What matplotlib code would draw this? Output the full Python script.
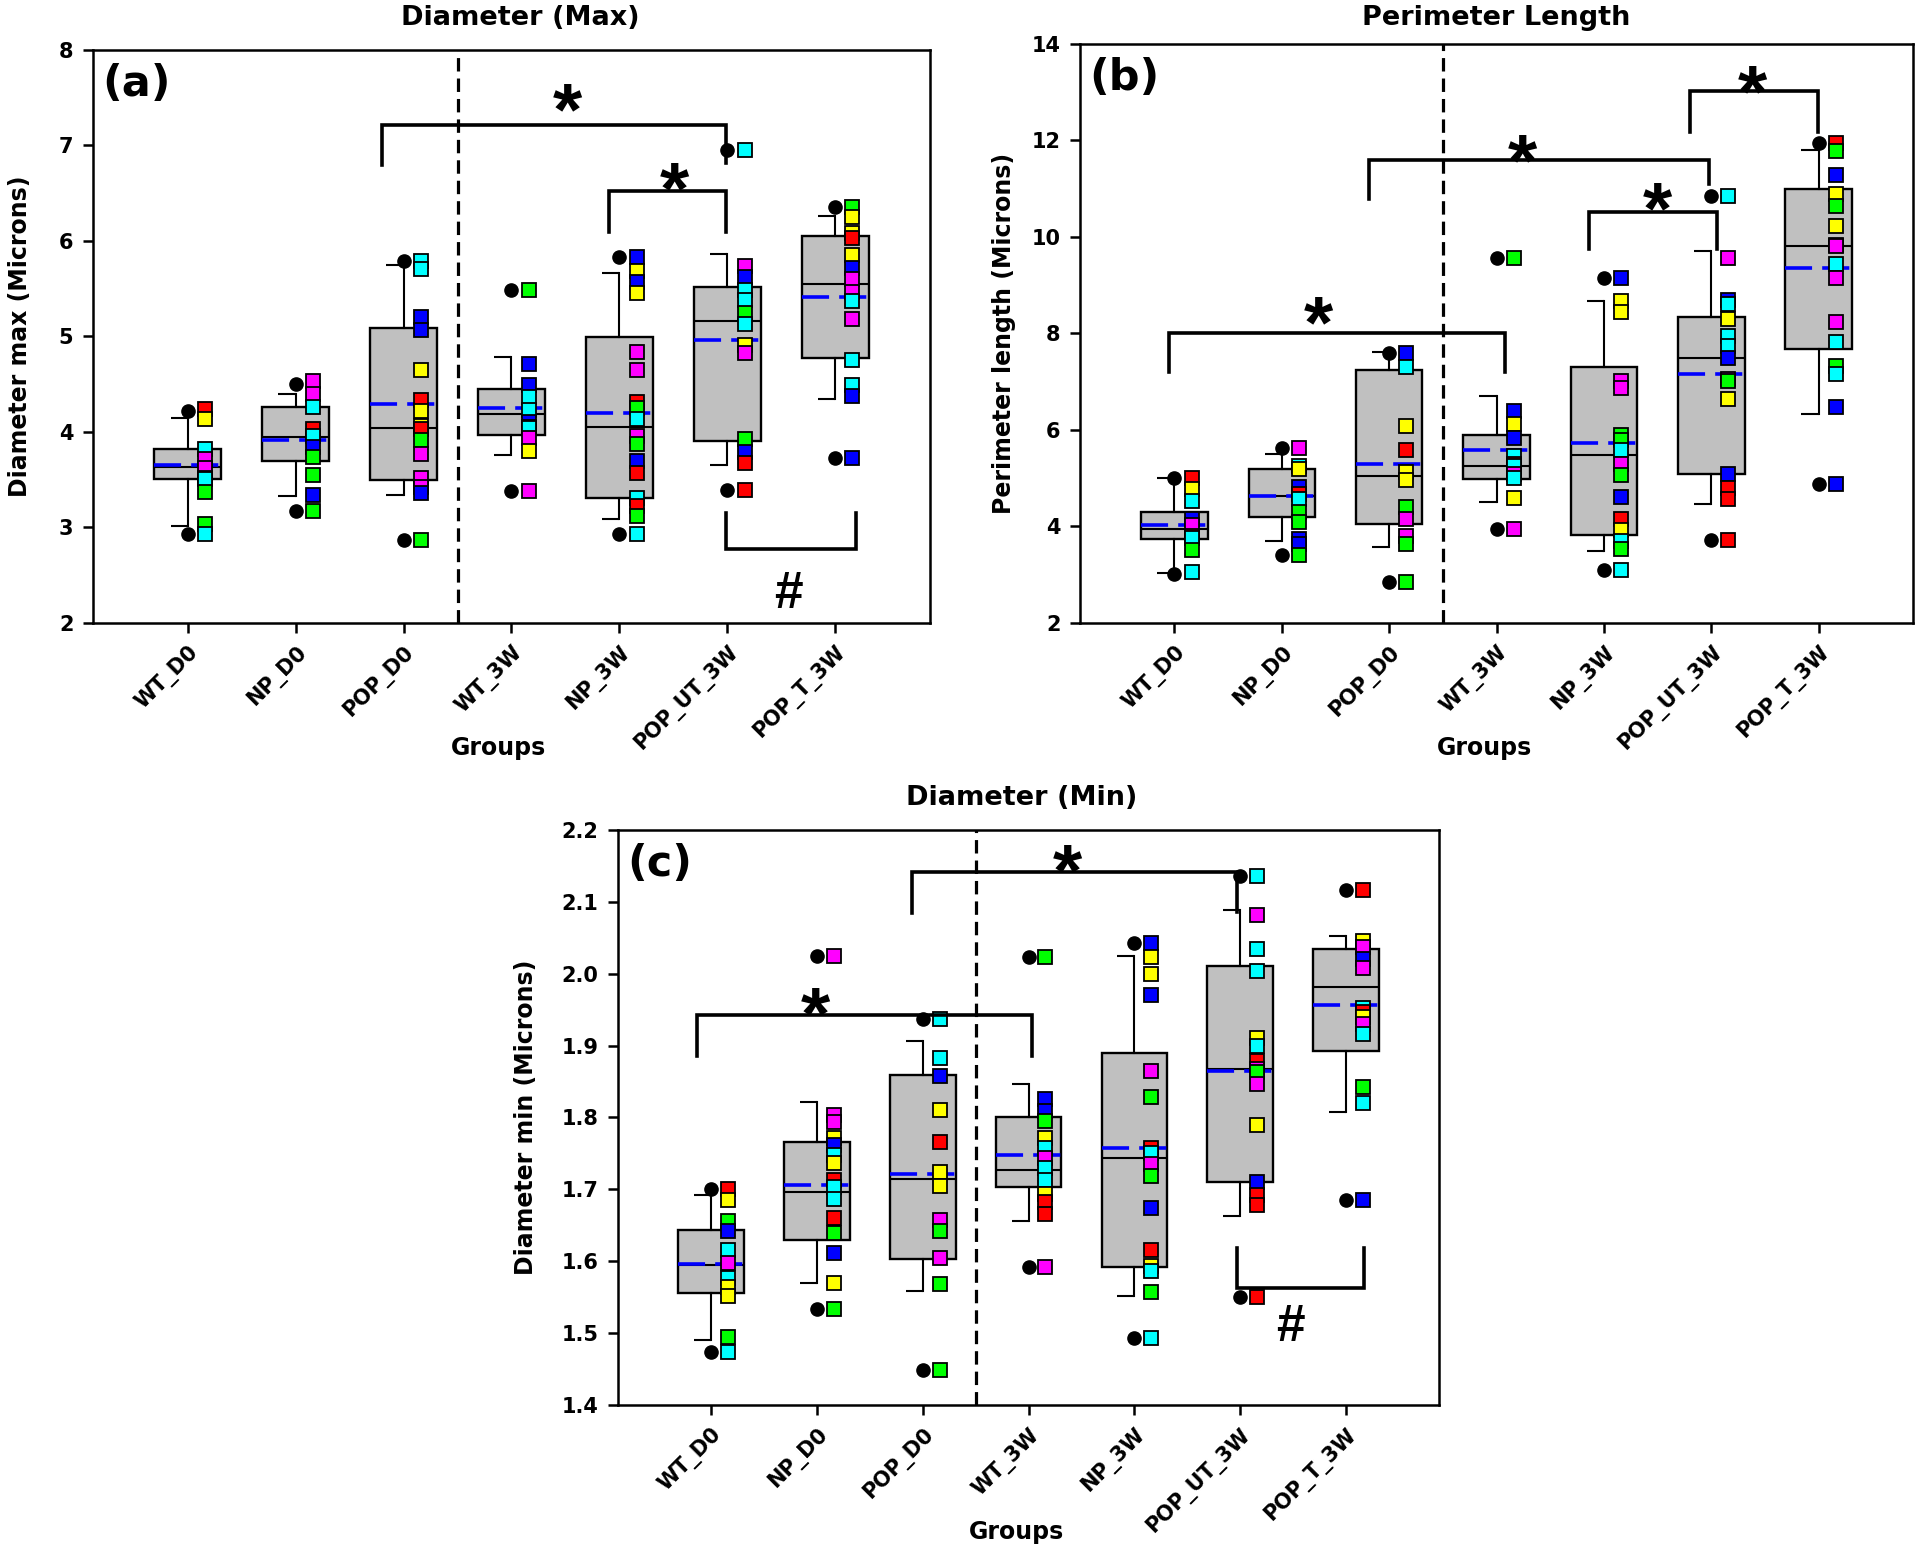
import matplotlib
matplotlib.use("Agg")
import matplotlib.pyplot as plt

plt.rcParams['font.family'] = ['DejaVu Sans']
plt.rcParams['font.weight'] = 'bold'

groups = ['WT_D0', 'NP_D0', 'POP_D0', 'WT_3W', 'NP_3W', 'POP_UT_3W', 'POP_T_3W']
colours = {'r': '#ff0000', 'y': '#ffff00', 'g': '#00ff00',
           'b': '#0000ff', 'm': '#ff00ff', 'c': '#00ffff'}

# ---- (a) Diameter (Max) ----
a_q1 = [3.50, 3.69, 3.49, 3.97, 3.30, 3.90, 4.77]
a_med = [3.63, 3.94, 4.04, 4.19, 4.05, 5.16, 5.55]
a_q3 = [3.82, 4.26, 5.09, 4.45, 4.99, 5.52, 6.05]
a_lo = [3.01, 3.33, 3.34, 3.76, 3.09, 3.65, 4.34]
a_hi = [4.14, 4.40, 5.75, 4.78, 5.66, 5.86, 6.26]
a_mean = [3.65, 3.91, 4.29, 4.25, 4.20, 4.96, 5.41]
a_out = [[4.22, 2.93], [4.50, 3.17], [5.79, 2.86], [5.48, 3.38],
         [5.83, 2.93], [6.95, 3.39], [6.36, 3.72]]
a_pts = [
    [4.24, 4.13, 3.82, 3.71, 3.62, 3.52, 3.50, 3.37, 3.03, 2.93],
    [4.53, 4.39, 4.26, 4.03, 3.95, 3.84, 3.74, 3.55, 3.34, 3.17],
    [5.79, 5.71, 5.20, 5.07, 4.65, 4.33, 4.22, 4.06, 4.03, 3.91, 3.77, 3.51, 3.42, 3.36, 2.86],
    [5.49, 4.71, 4.49, 4.36, 4.23, 4.10, 4.05, 4.04, 3.93, 3.80, 3.38],
    [5.83, 5.68, 5.57, 5.45, 4.84, 4.65, 4.31, 4.25, 4.13, 3.96, 3.87, 3.69, 3.57, 3.31, 3.22, 3.12, 2.93],
    [6.95, 5.74, 5.62, 5.49, 5.38, 5.24, 5.13, 4.91, 4.83, 3.92, 3.79, 3.67, 3.39],
    [6.36, 6.25, 6.08, 6.03, 5.85, 5.72, 5.60, 5.46, 5.37, 5.18, 4.75, 4.49, 4.37, 3.72],
]
a_cols = ["rycmmycggc", "mmcrcbggbg", "ccbbyryyrgmmmbg", "gbbccbrcmym",
          "bybymmrgcmgbrcrgc", "cmbccgcymgbrr", "gyyrybmmcmccbb"]
# brackets: x left, x right, bar y, left leg end, right leg end
a_brackets = [[1.80, 4.99, 7.21, 6.80, 6.82], [3.90, 4.99, 6.52, 6.09, 6.09],
              [4.99, 6.19, 2.77, 3.15, 3.15]]
a_marks = [['*', 3.52, 7.57], ['*', 4.51, 6.74], ['#', 5.57, 2.34]]

# ---- (b) Perimeter Length ----
b_q1 = [3.74, 4.18, 4.05, 4.98, 3.82, 5.08, 7.67]
b_med = [3.93, 4.62, 5.03, 5.24, 5.48, 7.48, 9.81]
b_q3 = [4.29, 5.19, 7.23, 5.89, 7.31, 8.34, 11.00]
b_lo = [3.03, 3.69, 3.56, 4.51, 3.48, 4.46, 6.32]
b_hi = [5.00, 5.50, 7.62, 6.69, 8.67, 9.71, 11.81]
b_mean = [4.02, 4.62, 5.29, 5.57, 5.72, 7.15, 9.36]
b_out = [[5.00, 3.01], [5.62, 3.40], [7.59, 2.84], [9.56, 3.94],
         [9.15, 3.10], [10.84, 3.71], [11.94, 4.88]]
b_pts = [
    [5.00, 4.77, 4.53, 4.15, 4.03, 3.79, 3.76, 3.50, 3.05],
    [5.62, 5.24, 5.19, 4.82, 4.67, 4.57, 4.29, 4.08, 3.74, 3.63, 3.40],
    [7.59, 7.31, 6.07, 5.57, 5.13, 4.96, 4.39, 4.15, 3.79, 3.63, 2.84],
    [9.56, 6.38, 6.12, 5.83, 5.45, 5.29, 5.24, 5.08, 5.00, 4.59, 3.94],
    [9.15, 8.67, 8.44, 7.00, 6.86, 5.88, 5.79, 5.58, 5.29, 5.05, 4.60, 4.15, 3.91, 3.69, 3.53, 3.10],
    [10.84, 9.56, 8.70, 8.60, 8.29, 7.95, 7.74, 7.48, 7.05, 7.00, 6.63, 5.08, 4.79, 4.57, 3.71],
    [11.94, 11.78, 11.29, 10.88, 10.64, 10.22, 9.84, 9.81, 9.43, 9.14, 8.24, 7.82, 7.33, 7.15, 6.48, 4.88],
]
b_cols = ["rycbmrcgc", "mcybrcggbbg", "bcyryygmmgg", "gbybcrcmcym",
          "byymmggcmgbrycgc", "cmbcyccbmgybrrr", "rgbygyrmcmmcgcbb"]
b_brackets = [[-0.05, 3.08, 8.00, 7.20, 7.20], [1.81, 4.98, 11.60, 10.79, 11.10],
              [3.86, 5.05, 10.51, 9.74, 9.74], [4.80, 5.99, 13.02, 12.17, 12.17]]
b_marks = [['*', 1.34, 8.60], ['*', 3.24, 11.98], ['*', 4.50, 10.98], ['*', 5.38, 13.41]]

# ---- (c) Diameter (Min) ----
c_q1 = [1.556, 1.630, 1.603, 1.703, 1.592, 1.710, 1.893]
c_med = [1.595, 1.696, 1.715, 1.727, 1.743, 1.868, 1.982]
c_q3 = [1.644, 1.766, 1.859, 1.800, 1.890, 2.011, 2.034]
c_lo = [1.491, 1.570, 1.558, 1.656, 1.552, 1.663, 1.807]
c_hi = [1.692, 1.822, 1.906, 1.847, 2.025, 2.089, 2.053]
c_mean = [1.596, 1.706, 1.722, 1.748, 1.757, 1.865, 1.956]
c_out = [[1.701, 1.473], [2.025, 1.533], [1.937, 1.448], [2.023, 1.592],
         [2.043, 1.493], [2.136, 1.550], [2.116, 1.685]]
c_pts = [
    [1.701, 1.685, 1.656, 1.642, 1.616, 1.597, 1.577, 1.564, 1.552, 1.495, 1.473],
    [2.025, 1.804, 1.793, 1.771, 1.762, 1.748, 1.736, 1.713, 1.703, 1.687, 1.660, 1.639, 1.611, 1.570, 1.533],
    [1.937, 1.883, 1.857, 1.810, 1.766, 1.724, 1.705, 1.658, 1.642, 1.604, 1.568, 1.448],
    [2.023, 1.826, 1.809, 1.795, 1.771, 1.757, 1.743, 1.729, 1.713, 1.694, 1.682, 1.665, 1.592],
    [2.043, 2.023, 1.999, 1.971, 1.865, 1.828, 1.757, 1.751, 1.735, 1.719, 1.674, 1.616, 1.594, 1.586, 1.557, 1.493],
    [2.136, 2.082, 2.034, 2.004, 1.910, 1.900, 1.878, 1.868, 1.863, 1.847, 1.789, 1.710, 1.692, 1.678, 1.550],
    [2.116, 2.046, 2.037, 2.020, 2.008, 1.952, 1.947, 1.940, 1.930, 1.916, 1.842, 1.820, 1.685],
]
c_cols = ["rygbcmcyygc", "mmmybcyrccrgbyg", "ccbyryymgmgg", "gbbgycmccyrrm",
          "byybmgrcmgbrycgc", "cmccycrmgmybrrr", "rymbmcrymcgcb"]
c_brackets = [[-0.13, 3.03, 1.942, 1.886, 1.886], [1.90, 4.97, 2.141, 2.084, 2.086],
              [4.97, 6.17, 1.563, 1.618, 1.618]]
c_marks = [['*', 0.99, 1.971], ['*', 3.37, 2.169], ['#', 5.48, 1.514]]


def draw_panel(ax, q1, med, q3, lo, hi, mean, outl, pts, cols, brackets, marks,
               ylim, yticks, yfmt, title, ylabel, letter, title_x, title_pad, ylab_x, xlab_y):
    pos = list(range(len(groups)))
    stats = []
    for i in pos:
        stats.append(dict(med=med[i], q1=q1[i], q3=q3[i], whislo=lo[i], whishi=hi[i],
                          mean=mean[i], fliers=outl[i], label=groups[i]))
    ax.bxp(stats, positions=pos, widths=0.62, patch_artist=True, showmeans=True,
           meanline=True, showcaps=False,
           boxprops=dict(facecolor='#c0c0c0', edgecolor='black', linewidth=1.7),
           medianprops=dict(color='black', linewidth=1.5),
           meanprops=dict(color='#0000ff', linewidth=2.6, linestyle=(0, (7.5, 2.8))),
           whiskerprops=dict(color='black', linewidth=1.5),
           flierprops=dict(marker='o', markerfacecolor='black', markeredgecolor='black',
                           markersize=9.5))
    # half caps to the left, SigmaPlot style
    ax.hlines(lo, [p - 0.16 for p in pos], pos, color='black', lw=1.5)
    ax.hlines(hi, [p - 0.16 for p in pos], pos, color='black', lw=1.5)
    for i in pos:
        for v, c in zip(pts[i], cols[i]):
            ax.plot(i + 0.16, v, 's', ms=9.5, mfc=colours[c], mec='black', mew=1.3, zorder=5)

    ax.axvline(2.5, color='black', lw=2.3, ls=(0, (4.2, 2.2)), zorder=1)

    for xl, xr, bar, legl, legr in brackets:
        ax.plot([xl, xl, xr, xr], [legl, bar, bar, legr], color='black', lw=2.6,
                solid_joinstyle='miter', zorder=6)
    for s, x, y in marks:
        fs = 54 if s == '*' else 37
        off = -0.58 * fs if s == '*' else -0.35 * fs
        ax.annotate(s, xy=(x, y), xytext=(0, off), textcoords='offset points',
                    ha='center', va='baseline', fontsize=fs, fontweight='bold',
                    family='Liberation Sans')

    ax.set_xlim(-0.88, 6.88)
    ax.set_ylim(*ylim)
    ax.set_yticks(yticks)
    ax.set_yticklabels([yfmt.format(t) for t in yticks], fontsize=15, fontweight='bold')
    ax.set_xticks(pos)
    ax.set_xticklabels(groups, rotation=45, ha='right', rotation_mode='anchor',
                       fontsize=15, fontweight='bold')
    ax.tick_params(axis='both', direction='out', length=7, width=1.8, pad=7)
    for sp in ax.spines.values():
        sp.set_linewidth(1.8)
    ax.set_title(title, fontsize=19.5, fontweight='bold', pad=title_pad, x=title_x)
    ax.set_ylabel(ylabel, fontsize=17, fontweight='bold')
    ax.set_xlabel('Groups', fontsize=17, fontweight='bold')
    ax.yaxis.set_label_coords(ylab_x, 0.5)
    ax.xaxis.set_label_coords(0.485, xlab_y)
    ax.text(0.011, 0.978, letter, transform=ax.transAxes, fontsize=31,
            fontweight='bold', ha='left', va='top')


fig = plt.figure(figsize=(19.2, 15.49), dpi=100)
ax_a = fig.add_axes([0.0484, 0.5981, 0.4360, 0.3696])
ax_b = fig.add_axes([0.5625, 0.5981, 0.4339, 0.3735])
ax_c = fig.add_axes([0.3219, 0.0930, 0.4276, 0.3712])

draw_panel(ax_a, a_q1, a_med, a_q3, a_lo, a_hi, a_mean, a_out, a_pts, a_cols,
           a_brackets, a_marks, (2, 8), [2, 3, 4, 5, 6, 7, 8], '{:g}',
           'Diameter (Max)', 'Diameter max (Microns)', '(a)', 0.511, 18, -0.073, -0.198)
draw_panel(ax_b, b_q1, b_med, b_q3, b_lo, b_hi, b_mean, b_out, b_pts, b_cols,
           b_brackets, b_marks, (2, 14), [2, 4, 6, 8, 10, 12, 14], '{:g}',
           'Perimeter Length', 'Perimeter length (Microns)', '(b)', 0.5, 14, -0.077, -0.196)
draw_panel(ax_c, c_q1, c_med, c_q3, c_lo, c_hi, c_mean, c_out, c_pts, c_cols,
           c_brackets, c_marks, (1.4, 2.2),
           [1.4, 1.5, 1.6, 1.7, 1.8, 1.9, 2.0, 2.1, 2.2], '{:.1f}',
           'Diameter (Min)', 'Diameter min (Microns)', '(c)', 0.492, 18, -0.098, -0.2)

fig.savefig('out.png', dpi=100)
